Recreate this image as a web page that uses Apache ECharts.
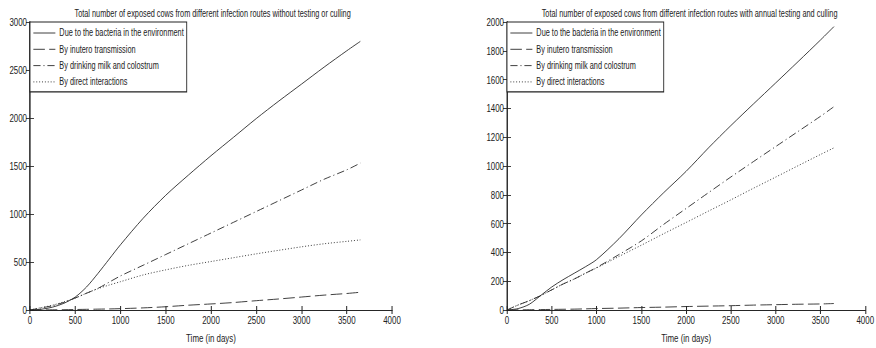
<!DOCTYPE html>
<html>
<head>
<meta charset="utf-8">
<script src="https://cdn.jsdelivr.net/npm/echarts@6/dist/echarts.min.js"></script>
<style>
  html, body { margin: 0; padding: 0; background: #fff; overflow: hidden; }
  #frame { width: 876px; height: 348px; overflow: hidden; position: relative; }
  /* The figure is laid out wide and squeezed horizontally, giving the narrow lettering of the plot */
  #chart { width: 1217px; height: 348px; transform: scaleX(0.72); transform-origin: 0 0; }
</style>
</head>
<body>
<div id="frame"><div id="chart"></div></div>
<script>
// Simulation time points (days)
const days = [0, 125, 250, 375, 500, 625, 750, 875, 1000, 1250, 1500, 1750, 2000, 2250, 2500, 2750, 3000, 3250, 3500, 3650];

// Without testing or culling
const envNoTest    = [0, 8, 30, 70, 135, 240, 380, 530, 680, 955, 1195, 1405, 1607, 1800, 1994, 2177, 2353, 2530, 2700, 2798];
const uteroNoTest  = [0, 1, 2, 3, 5, 7, 9, 11, 14, 22, 34, 50, 63, 78, 97, 115, 135, 155, 172, 185];
const milkNoTest   = [0, 22, 45, 80, 125, 175, 225, 290, 355, 466, 578, 690, 802, 914, 1026, 1138, 1250, 1362, 1460, 1530];
const directNoTest = [0, 25, 50, 85, 125, 175, 222, 260, 295, 365, 418, 465, 505, 545, 585, 622, 658, 690, 715, 730];

// With annual testing and culling
const envTest    = [0, 10, 40, 100, 160, 210, 255, 300, 350, 495, 660, 815, 963, 1126, 1281, 1430, 1577, 1725, 1875, 1968];
const uteroTest  = [0, 1, 2, 3, 4, 5, 6, 8, 10, 13, 17, 20, 24, 27, 30, 34, 37, 40, 42, 45];
const milkTest   = [0, 35, 65, 100, 140, 180, 215, 255, 295, 385, 480, 595, 705, 815, 924, 1030, 1135, 1240, 1345, 1412];
const directTest = [0, 35, 65, 100, 140, 180, 215, 255, 292, 372, 450, 530, 608, 687, 765, 845, 923, 1002, 1080, 1126];

const seriesNames = [
  'Due to the bacteria in the environment',
  'By inutero transmission',
  'By drinking milk and colostrum',
  'By direct interactions'
];
const titles = [
  'Total number of exposed cows from different infection routes without testing or culling',
  'Total number of exposed cows from different infection routes with annual testing and culling'
];
const xTicks = { min: 0, max: 4000, interval: 500 };
const yLeftTicks = { min: 0, max: 3000, interval: 500 };
const yRightTicks = { min: 0, max: 2000, interval: 200 };

// Horizontal squeeze applied to the whole figure (see #chart transform)
const SX = 0.72;
const px = v => v / SX;   // horizontal screen pixels -> layout pixels

const FONT = "'Liberation Sans', Arial, sans-serif";
const INK = '#222';
const dashStyles = ['solid', [16, 6], [10, 4, 1.5, 4], [1.4, 2.6]];

const chart = echarts.init(document.getElementById('chart'), null, { renderer: 'svg' });

const grids = [
  { left: px(30), top: 22, width: px(362), height: 292 },
  { left: px(507), top: 22, width: px(361), height: 292 }
];

function xAxes(gridIndex) {
  const base = {
    type: 'value', gridIndex, min: xTicks.min, max: xTicks.max, interval: xTicks.interval,
    axisLine: { show: true, lineStyle: { color: INK, width: 1 } },
    axisTick: { show: true, inside: true, length: 4, lineStyle: { color: INK, width: px(1) } },
    splitLine: { show: false }
  };
  return [
    Object.assign({}, base, {
      position: 'bottom',
      axisLabel: { show: true, color: INK, fontFamily: FONT, fontSize: 11, margin: 4,
                   formatter: v => String(v) },
      name: 'Time (in days)', nameLocation: 'middle', nameGap: 22,
      nameTextStyle: { color: INK, fontFamily: FONT, fontSize: 11 }
    }),
    Object.assign({}, base, { position: 'top', axisLabel: { show: false } })
  ];
}

function yAxes(gridIndex, ticks) {
  const base = {
    type: 'value', gridIndex, min: ticks.min, max: ticks.max, interval: ticks.interval,
    axisLine: { show: true, lineStyle: { color: INK, width: px(1) } },
    axisTick: { show: true, inside: true, length: px(4), lineStyle: { color: INK, width: 1 } },
    splitLine: { show: false }
  };
  return [
    Object.assign({}, base, {
      position: 'left',
      axisLabel: { show: true, color: INK, fontFamily: FONT, fontSize: 11, margin: px(3),
                   formatter: v => String(v) }
    }),
    Object.assign({}, base, { position: 'right', axisLabel: { show: false } })
  ];
}

function pairs(values) {
  return days.map((d, i) => [d, values[i]]);
}

function makeSeries(sets, xIdx, yIdx) {
  return sets.map((vals, k) => ({
    name: seriesNames[k],
    type: 'line',
    xAxisIndex: xIdx,
    yAxisIndex: yIdx,
    data: pairs(vals),
    symbol: 'none',
    smooth: 0.3,
    animation: false,
    lineStyle: { color: INK, width: 1, type: dashStyles[k] },
    itemStyle: { color: INK }
  }));
}

function legendAt(left) {
  return {
    data: seriesNames,
    orient: 'vertical',
    left: left, top: 22,
    backgroundColor: '#fff',
    borderColor: INK, borderWidth: 1.2, borderRadius: 0,
    padding: [6, px(3), 5, px(3)],
    itemGap: 6.3,
    itemWidth: px(22), itemHeight: 10,
    selectedMode: false,
    lineStyle: { width: 1 },
    itemStyle: { opacity: 0, color: 'transparent', borderWidth: 0 },
    textStyle: { color: INK, fontFamily: FONT, fontSize: 10.2, padding: [0, 0, 0, px(4) - 5] }
  };
}

chart.setOption({
  animation: false,
  backgroundColor: '#fff',
  title: [
    { text: titles[0], left: px(209), top: 4, textAlign: 'center',
      textStyle: { color: INK, fontFamily: FONT, fontSize: 10.2, fontWeight: 'normal' } },
    { text: titles[1], left: px(686), top: 4, textAlign: 'center',
      textStyle: { color: INK, fontFamily: FONT, fontSize: 10.2, fontWeight: 'normal' } }
  ],
  grid: grids,
  legend: [legendAt(px(30)), legendAt(px(507))],
  xAxis: [...xAxes(0), ...xAxes(1)],
  yAxis: [...yAxes(0, yLeftTicks), ...yAxes(1, yRightTicks)],
  series: [
    ...makeSeries([envNoTest, uteroNoTest, milkNoTest, directNoTest], 0, 0),
    ...makeSeries([envTest, uteroTest, milkTest, directTest], 2, 2)
  ]
});
</script>
</body>
</html>
